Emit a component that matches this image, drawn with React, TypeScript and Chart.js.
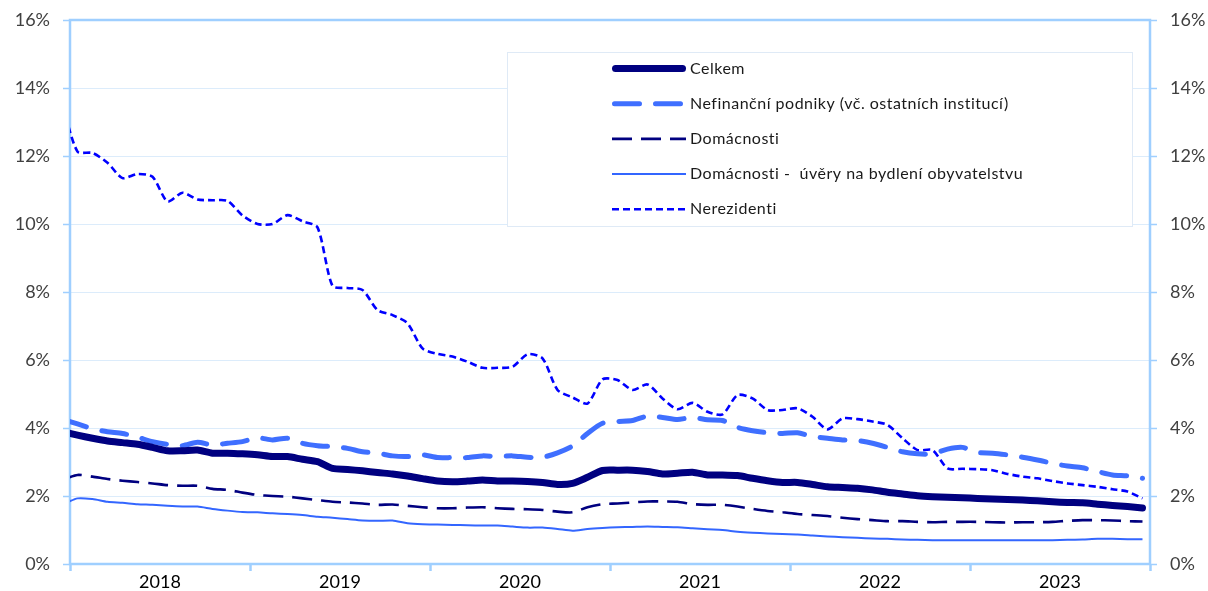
import { useEffect, useRef } from "react";
import { Chart, registerables } from "chart.js";

Chart.register(...registerables);

const YEARS = ["2018", "2019", "2020", "2021", "2022", "2023"];
// Monthly observations; the first (Dec 2017) lies just left of the axis and is clipped.
const MONTHS: string[] = ["2017-12"];
YEARS.forEach((y) => {
  for (let m = 1; m <= 12; m++) MONTHS.push(`${y}-${String(m).padStart(2, "0")}`);
});

const celkem = [
  3.89,
  3.79, 3.70, 3.62, 3.57, 3.52, 3.43, 3.33, 3.33, 3.35, 3.26, 3.26, 3.24,
  3.21, 3.16, 3.16, 3.08, 3.01, 2.81, 2.78, 2.74, 2.69, 2.65, 2.59, 2.51,
  2.44, 2.42, 2.44, 2.47, 2.44, 2.44, 2.43, 2.40, 2.34, 2.37, 2.55, 2.75,
  2.76, 2.76, 2.72, 2.65, 2.67, 2.70, 2.62, 2.62, 2.60, 2.52, 2.45, 2.40,
  2.40, 2.34, 2.27, 2.25, 2.23, 2.18, 2.11, 2.06, 2.01, 1.98, 1.96, 1.95,
  1.93, 1.91, 1.90, 1.88, 1.86, 1.83, 1.81, 1.80, 1.76, 1.72, 1.69, 1.65,
];

const nefinancni = [
  4.26,
  4.12, 3.98, 3.89, 3.84, 3.73, 3.60, 3.52, 3.48, 3.58, 3.50, 3.55, 3.60,
  3.71, 3.65, 3.70, 3.55, 3.48, 3.45, 3.40, 3.30, 3.26, 3.18, 3.16, 3.21,
  3.13, 3.13, 3.13, 3.18, 3.16, 3.18, 3.14, 3.14, 3.27, 3.47, 3.84, 4.14,
  4.19, 4.22, 4.35, 4.31, 4.25, 4.31, 4.24, 4.22, 4.02, 3.92, 3.86, 3.84,
  3.86, 3.75, 3.70, 3.65, 3.63, 3.55, 3.43, 3.30, 3.24, 3.24, 3.38, 3.43,
  3.28, 3.26, 3.21, 3.14, 3.06, 2.96, 2.88, 2.83, 2.72, 2.62, 2.59, 2.52,
];

const domacnosti = [
  2.48,
  2.62, 2.57, 2.50, 2.45, 2.41, 2.37, 2.32, 2.30, 2.30, 2.21, 2.18, 2.10,
  2.03, 2.00, 1.98, 1.93, 1.88, 1.83, 1.81, 1.78, 1.74, 1.75, 1.71, 1.67,
  1.64, 1.64, 1.66, 1.67, 1.64, 1.62, 1.61, 1.59, 1.54, 1.52, 1.67, 1.76,
  1.78, 1.81, 1.84, 1.84, 1.83, 1.76, 1.74, 1.74, 1.69, 1.62, 1.56, 1.52,
  1.47, 1.44, 1.41, 1.36, 1.32, 1.29, 1.26, 1.26, 1.24, 1.23, 1.24, 1.24,
  1.24, 1.23, 1.22, 1.23, 1.23, 1.24, 1.27, 1.29, 1.29, 1.28, 1.26, 1.25,
];

const bydleni = [
  1.75,
  1.93, 1.91, 1.83, 1.80, 1.76, 1.74, 1.71, 1.69, 1.69, 1.62, 1.57, 1.53,
  1.52, 1.49, 1.47, 1.44, 1.39, 1.36, 1.32, 1.28, 1.27, 1.28, 1.20, 1.17,
  1.16, 1.15, 1.14, 1.13, 1.13, 1.10, 1.07, 1.07, 1.03, 0.98, 1.03, 1.06,
  1.08, 1.09, 1.10, 1.09, 1.08, 1.05, 1.02, 1.00, 0.95, 0.92, 0.90, 0.88,
  0.87, 0.84, 0.81, 0.79, 0.77, 0.75, 0.74, 0.72, 0.71, 0.70, 0.70, 0.70,
  0.70, 0.70, 0.70, 0.70, 0.70, 0.70, 0.71, 0.72, 0.74, 0.74, 0.73, 0.73,
];

const nerezidenti = [
  13.5,
  12.13, 12.09, 11.80, 11.35, 11.47, 11.39, 10.66, 10.92, 10.72, 10.70, 10.68, 10.25,
  10.00, 10.00, 10.26, 10.08, 9.90, 8.18, 8.12, 8.06, 7.47, 7.32, 7.08, 6.34,
  6.18, 6.10, 5.95, 5.77, 5.77, 5.80, 6.17, 6.05, 5.12, 4.90, 4.72, 5.43,
  5.41, 5.12, 5.28, 4.87, 4.55, 4.74, 4.48, 4.40, 4.97, 4.87, 4.53, 4.53,
  4.58, 4.33, 3.96, 4.28, 4.26, 4.19, 4.09, 3.70, 3.35, 3.35, 2.81, 2.80,
  2.79, 2.76, 2.65, 2.57, 2.52, 2.44, 2.37, 2.32, 2.27, 2.20, 2.13, 1.93,
];

const Y_TICKS = [0, 2, 4, 6, 8, 10, 12, 14, 16];

const SERIES = [
  { label: "Celkem", data: celkem, color: "#000080", width: 7, dash: [] as number[], cap: "round" },
  { label: "Nefinanční podniky (vč. ostatních institucí)", data: nefinancni, color: "#3f6fff", width: 5, dash: [25, 16], cap: "round" },
  { label: "Domácnosti", data: domacnosti, color: "#000080", width: 2.6, dash: [20, 9], cap: "butt" },
  { label: "Domácnosti -  úvěry na bydlení obyvatelstvu", data: bydleni, color: "#3366ff", width: 2, dash: [] as number[], cap: "butt" },
  { label: "Nerezidenti", data: nerezidenti, color: "#0000ff", width: 2.6, dash: [7, 4], cap: "butt" },
];

const AXIS = "#9fcfff";
const GRID = "#dcecfb";

const framePlugin = {
  id: "frame",
  beforeDatasetsDraw(chart: any) {
    const { ctx, chartArea: a } = chart;
    ctx.save();
    ctx.strokeStyle = AXIS;
    ctx.lineWidth = 2.5;
    ctx.strokeRect(a.left, a.top, a.right - a.left, a.bottom - a.top);
    ctx.restore();
  },
};

const legendPlugin = {
  id: "boxLegend",
  afterDraw(chart: any) {
    const ctx = chart.ctx;
    ctx.save();
    ctx.fillStyle = "#ffffff";
    ctx.fillRect(507, 52, 625, 174);
    ctx.strokeStyle = "#dfeaf6";
    ctx.lineWidth = 1;
    ctx.strokeRect(507.5, 52.5, 625, 174);
    SERIES.forEach((s, i) => {
      const y = 68.5 + i * 35.2;
      ctx.beginPath();
      ctx.strokeStyle = s.color;
      ctx.lineWidth = s.width;
      ctx.lineCap = s.cap;
      ctx.setLineDash(s.dash);
      const pad = s.cap === "round" ? s.width / 2 : 0;
      ctx.moveTo(612 + pad, y);
      ctx.lineTo(686 - pad, y);
      ctx.stroke();
      ctx.setLineDash([]);
      ctx.fillStyle = "#1a1a1a";
      ctx.font = "16px Lato";
      (ctx as any).letterSpacing = "0.5px";
      ctx.textBaseline = "middle";
      ctx.textAlign = "left";
      ctx.fillText(s.label, 690, y);
      (ctx as any).letterSpacing = "0px";
    });
    ctx.restore();
  },
};

const fitY = (w: number) => (scale: any) => {
  scale.width = w;
  scale.paddingTop = 0;
  scale.paddingBottom = 0;
};

export default function App() {
  const ref = useRef<HTMLCanvasElement>(null);

  useEffect(() => {
    if (!ref.current) return;
    const chart = new Chart(ref.current, {
      type: "line",
      data: {
        datasets: SERIES.map((s) => ({
          label: s.label,
          data: s.data.map((v, k) => ({ x: k - 0.5, y: v })),
          borderColor: s.color,
          backgroundColor: s.color,
          borderWidth: s.width,
          borderDash: s.dash,
          borderCapStyle: s.cap as any,
          borderJoinStyle: "round" as any,
          pointRadius: 0,
          tension: 0.25,
          fill: false,
          clip: 0,
          yAxisID: "y",
        })),
      },
      options: {
        responsive: false,
        animation: false,
        layout: { padding: { top: 20, left: 0, right: 0, bottom: 0 } },
        plugins: { legend: { display: false }, tooltip: { enabled: false } },
        scales: {
          x: {
            type: "linear",
            min: 0,
            max: 72,
            afterBuildTicks: (scale: any) => {
              const t = [];
              for (let v = 0; v <= 72; v += 6) t.push({ value: v });
              scale.ticks = t;
            },
            afterFit: (scale: any) => {
              scale.height = 27;
              scale.paddingLeft = 0;
              scale.paddingRight = 0;
            },
            border: { display: false },
            grid: {
              drawOnChartArea: false,
              drawTicks: true,
              tickLength: 7,
              tickWidth: 2.5,
              tickColor: (c: any) => (c.tick && c.tick.value % 12 === 0 ? AXIS : "rgba(0,0,0,0)"),
            },
            ticks: {
              autoSkip: false,
              maxRotation: 0,
              padding: 0,
              color: "#000000",
              font: { family: "Lato", size: 18 },
              callback: (v: any) => (v % 12 === 6 ? YEARS[(v - 6) / 12] : ""),
            },
          },
          y: {
            position: "left",
            min: 0,
            max: 16,
            afterBuildTicks: (scale: any) => {
              scale.ticks = Y_TICKS.map((v) => ({ value: v }));
            },
            afterFit: fitY(70),
            border: { display: false },
            grid: {
              color: GRID,
              lineWidth: 1,
              tickLength: 7,
              tickColor: AXIS,
              tickWidth: 1.5,
            },
            ticks: {
              padding: 13,
              color: "#404040",
              font: { family: "Lato", size: 18 },
              callback: (v: any) => `${v}%`,
            },
          },
          y2: {
            position: "right",
            min: 0,
            max: 16,
            afterBuildTicks: (scale: any) => {
              scale.ticks = Y_TICKS.map((v) => ({ value: v }));
            },
            afterFit: fitY(58),
            border: { display: false },
            grid: {
              drawOnChartArea: false,
              tickLength: 7,
              tickColor: AXIS,
              tickWidth: 1.5,
            },
            ticks: {
              padding: 13,
              color: "#404040",
              font: { family: "Lato", size: 18 },
              callback: (v: any) => `${v}%`,
            },
          },
        },
      },
      plugins: [framePlugin, legendPlugin],
    });
    return () => chart.destroy();
  }, []);

  return (
    <div style={{ position: "fixed", left: 0, top: 0, width: 1208, height: 591, background: "#fff" }}>
      <canvas ref={ref} width={1208} height={591} style={{ display: "block" }} />
    </div>
  );
}
